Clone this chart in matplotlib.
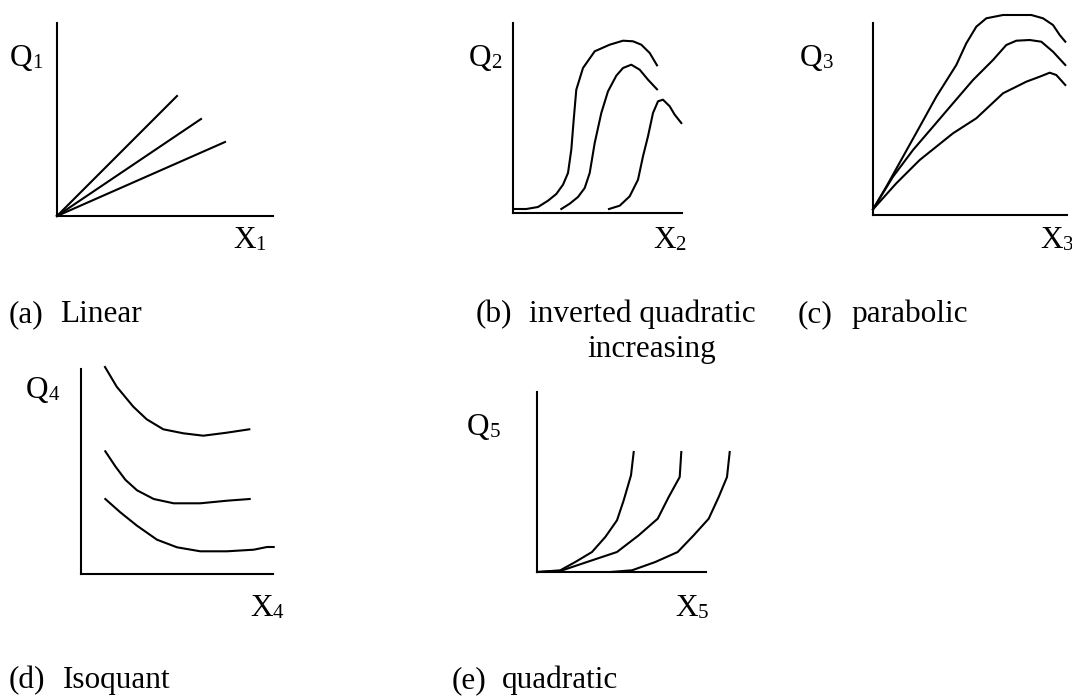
import matplotlib
matplotlib.use('Agg')
import matplotlib.pyplot as plt

W, H = 1072, 696
FONT = 'Liberation Serif'
FS = 22.5      # main text size
FS_SUB = 15    # subscript size
LW = 1.5

# ─── Data (units ~ pixels from origin) ─────────────────────────────────────
# (a) linear: end points of the three rays from the origin
LIN_X_END = [120, 144, 168]
LIN_Y_END = [120, 97, 74]

# (b) inverted quadratic increasing
B1_X = [1, 13.3, 25, 35, 43.3, 50, 55, 58.3, 60.7, 63.3, 70, 81.7, 96.7, 110, 120, 128.3, 136.7, 144]
B1_Y = [4, 4, 6, 12.3, 19, 28.3, 40, 63.3, 93.3, 123.3, 145, 161.7, 168.3, 172.3, 171.7, 168.3, 160, 147.7]
B2_X = [48.3, 56.7, 65, 71.7, 76.7, 81.7, 88.3, 95, 103.3, 110, 118.3, 126.7, 135, 144]
B2_Y = [4, 9.3, 16, 25, 40, 70, 100, 121.7, 137.3, 145, 148.3, 143.3, 133.3, 123.7]
B3_X = [96, 106.7, 116.7, 125, 130, 135, 140, 145, 150, 156.7, 161.7, 168.3]
B3_Y = [4, 7.3, 16.7, 33.3, 56.7, 76.7, 100, 111.7, 113.3, 106.7, 98.3, 90]

# (c) parabolic
C1_X = [0, 13.3, 30, 46.7, 63.3, 83.3, 93.3, 103.3, 113.3, 130, 158.3, 170, 180, 186.7, 192.3]
C1_Y = [5.7, 28.3, 58.3, 88.3, 118.3, 150, 171.7, 188.3, 196.7, 200, 200, 196.7, 190, 180, 173.3]
C2_X = [0, 20, 40, 60, 80, 100, 120, 133.3, 143.3, 156.7, 168.3, 180, 192.3]
C2_Y = [5.7, 38.3, 65, 88.3, 111.7, 135, 155, 170, 174.3, 175, 173.3, 163.3, 150]
C3_X = [0, 23.3, 46.7, 80, 103.3, 130, 153.3, 166.7, 176.7, 183.3, 192.3]
C3_Y = [5.7, 31.7, 55, 81.7, 96.7, 121.7, 133.3, 138.3, 142.3, 140, 130]

# (d) isoquant
D1_X = [24, 35.7, 52.3, 65.7, 82.3, 102.3, 122.3, 145.7, 168.3]
D1_Y = [207, 187.3, 167.3, 154.7, 144.7, 140.7, 138.3, 141.3, 144.7]
D2_X = [24.3, 34.3, 44.3, 56, 72.7, 92.7, 119.3, 146, 168.7]
D2_Y = [122.7, 107.7, 94.3, 83.7, 75, 70.7, 70.7, 73.3, 75]
D3_X = [24.3, 39.3, 56, 76, 96, 119.3, 146, 172.7, 186, 192.7]
D3_Y = [75, 61.7, 48.3, 34.3, 26.7, 22.7, 22.7, 24.3, 27, 27]

# (e) quadratic
E1_X = [0.7, 23.3, 38.3, 55, 68.3, 80, 86.7, 94, 96.7]
E1_Y = [0, 1.7, 10, 20, 35, 51.7, 71.7, 96.7, 120]
E2_X = [0.7, 23.3, 50, 80, 101.7, 120.7, 131.7, 142.7, 144.3]
E2_Y = [0, 1, 10, 20, 36.7, 53.3, 75, 95, 120]
E3_X = [73.3, 95, 118.3, 140.7, 156.7, 171.7, 181.7, 190, 192.7]
E3_Y = [0, 1.7, 10, 20, 36.7, 53.3, 75, 95, 120]

CAPTIONS = [('(a)', 'Linear'), ('(b)', 'inverted quadratic'), ('(c)', 'parabolic'),
            ('(d)', 'Isoquant'), ('(e)', 'quadratic')]

fig = plt.figure(figsize=(W / 100, H / 100), dpi=100)
fig.patch.set_facecolor('white')

# background axes in pixel coords for all the text
bg = fig.add_axes([0, 0, 1, 1])
bg.set_xlim(0, W); bg.set_ylim(H, 0)
bg.axis('off')


def panel(x0, y0, x1, y1):
    """Axes with only left/bottom spines, placed by pixel box."""
    ax = fig.add_axes([x0 / W, 1 - y1 / H, (x1 - x0) / W, (y1 - y0) / H])
    ax.set_xlim(0, x1 - x0); ax.set_ylim(0, y1 - y0)
    for s in ('top', 'right'):
        ax.spines[s].set_visible(False)
    for s in ('left', 'bottom'):
        ax.spines[s].set_linewidth(LW)
        ax.spines[s].set_color('black')
    ax.set_xticks([]); ax.set_yticks([])
    ax.patch.set_alpha(0)
    return ax


def curve(ax, xs, ys):
    ax.plot(xs, ys, color='black', lw=LW, clip_on=False, solid_joinstyle='round')


def sym(x, base, letter, sub):
    """Letter with subscript, e.g. Q_1."""
    bg.text(x, base, letter, fontsize=FS, family=FONT, ha='left', va='baseline')
    bg.text(x + 22.5, base + 2, sub, fontsize=FS_SUB, family=FONT, ha='left', va='baseline')


def caption(x_tag, x_txt, base, tag, txt):
    bg.text(x_tag, base, tag, fontsize=FS, family=FONT, ha='left', va='baseline')
    bg.text(x_txt, base, txt, fontsize=FS, family=FONT, ha='left', va='baseline')


# ── (a) ────────────────────────────────────────────────────────────────────
ax = panel(57, 23, 273, 216)
for xe, ye in zip(LIN_X_END, LIN_Y_END):
    curve(ax, [0, xe], [0, ye])
sym(10, 66, 'Q', '1')
sym(233, 248, 'X', '1')

# ── (b) ────────────────────────────────────────────────────────────────────
ax = panel(513, 23, 682, 213)
for xs, ys in [(B1_X, B1_Y), (B2_X, B2_Y), (B3_X, B3_Y)]:
    curve(ax, xs, ys)
sym(469, 66, 'Q', '2')
sym(653, 248, 'X', '2')

# ── (c) ────────────────────────────────────────────────────────────────────
ax = panel(873, 23, 1067, 215)
for xs, ys in [(C1_X, C1_Y), (C2_X, C2_Y), (C3_X, C3_Y)]:
    curve(ax, xs, ys)
sym(800, 66, 'Q', '3')
sym(1040, 248, 'X', '3')

# ── (d) ────────────────────────────────────────────────────────────────────
ax = panel(81, 369, 273, 574)
for xs, ys in [(D1_X, D1_Y), (D2_X, D2_Y), (D3_X, D3_Y)]:
    curve(ax, xs, ys)
sym(26, 398, 'Q', '4')
sym(250, 616, 'X', '4')

# ── (e) ────────────────────────────────────────────────────────────────────
ax = panel(537, 392, 706, 572)
for xs, ys in [(E1_X, E1_Y), (E2_X, E2_Y), (E3_X, E3_Y)]:
    curve(ax, xs, ys)
sym(467, 435, 'Q', '5')
sym(675, 616, 'X', '5')

# captions
caption(9, 60, 322, *CAPTIONS[0])
caption(476, 529, 322, *CAPTIONS[1])
bg.text(587, 357, 'increasing', fontsize=FS, family=FONT, ha='left', va='baseline')
caption(798, 851, 322, *CAPTIONS[2])
caption(9, 63, 688, *CAPTIONS[3])
caption(452, 502, 688, *CAPTIONS[4])

fig.savefig('out.png', dpi=100, facecolor='white')
